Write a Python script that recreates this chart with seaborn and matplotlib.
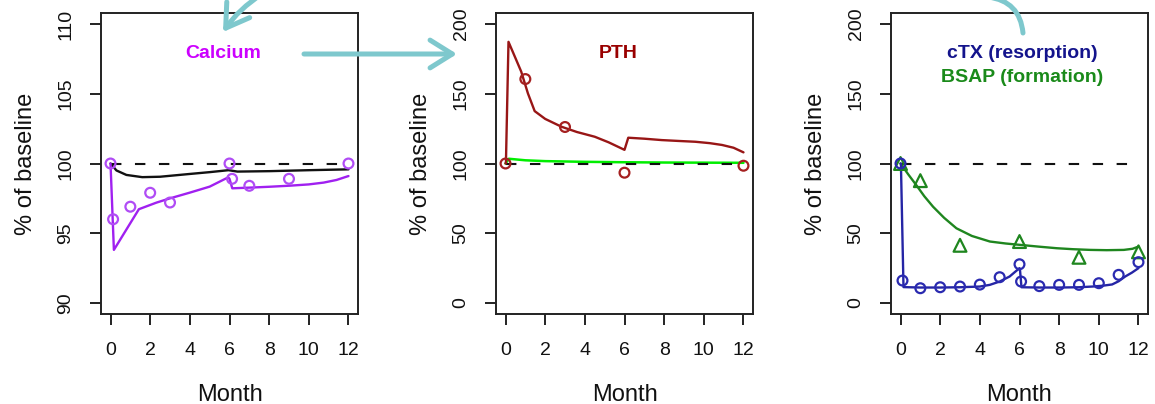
import numpy as np
import pandas as pd
import matplotlib
matplotlib.use("Agg")
import matplotlib.pyplot as plt
from matplotlib.patches import FancyArrowPatch
import seaborn as sns

# ---------------- data ----------------
month_ticks = [0, 2, 4, 6, 8, 10, 12]
ca_yticks = [90, 95, 100, 105, 110]
pct_yticks = [0, 50, 100, 150, 200]

# Calcium: observed (% of baseline)
ca_obs_month = [0, 0.13, 1, 2, 3, 6, 6.13, 7, 9, 12]
ca_obs_value = [100, 96.0, 96.9, 97.9, 97.2, 100, 98.9, 98.4, 98.9, 100]
# Calcium: model prediction
ca_fit_month = [0, 0.17, 1.43, 2.31, 3.0, 4.0, 5.0, 5.94, 6.0, 6.14, 7.04, 8.0, 9.06, 10.0, 10.75, 11.4, 12]
ca_fit_value = [100, 93.8, 96.72, 97.19, 97.5, 97.91, 98.34, 99.01, 98.9, 98.22, 98.27, 98.33, 98.41, 98.5, 98.63, 98.82, 99.1]
# Calcium: reference model (black)
ca_ref_month = [0, 0.3, 0.8, 1.6, 2.5, 4.0, 5.0, 5.95, 6.4, 8.0, 10.0, 12]
ca_ref_value = [100, 99.5, 99.18, 99.02, 99.05, 99.25, 99.38, 99.52, 99.42, 99.45, 99.52, 99.58]

# PTH
pth_obs_month = [0, 1, 3, 6, 12]
pth_obs_value = [100, 160.6, 126.2, 93.4, 98.4]
pth_fit_month = [0, 0.02, 0.15, 0.4, 0.79, 1.13, 1.47, 2.0, 2.82, 3.6, 4.5, 5.2, 5.94, 6.0, 6.19, 7.0, 7.88, 8.7, 9.57, 10.3, 10.92, 11.5, 12]
pth_fit_value = [100, 100, 187.3, 179.0, 166.0, 150.3, 137.6, 132.0, 126.4, 122.6, 119.2, 115.2, 110.2, 109.8, 118.5, 117.8, 116.8, 116.2, 115.6, 114.6, 113.3, 111.3, 108]
pth_ref_month = [0, 0.17, 1, 2, 4, 6, 8, 10, 12]
pth_ref_value = [100, 103.4, 102.3, 101.7, 101.2, 100.9, 100.7, 100.6, 100.5]

# Bone markers
ctx_obs_month = [0, 0.1, 1, 2, 3, 4, 5, 6, 6.08, 7, 8, 9, 10, 11, 12]
ctx_obs_value = [100, 16.0, 10.5, 11.2, 11.7, 13.1, 18.4, 27.7, 15.3, 12.0, 12.9, 12.9, 14.1, 20.1, 29.2]
ctx_fit_month = [0, 0.02, 0.15, 1, 2, 3, 4, 4.5, 5, 5.5, 6.0, 6.02, 6.1, 7, 8, 9, 9.67, 10.2, 10.67, 11.0, 11.33, 11.67, 12]
ctx_fit_value = [100, 100, 11.3, 11.0, 11.0, 11.2, 11.7, 12.9, 15.3, 18.9, 24.9, 24.5, 11.2, 11.0, 11.0, 11.2, 11.7, 12.3, 13.2, 15.5, 18.9, 21.7, 24.9]
bsap_obs_month = [0, 1, 3, 6, 9, 12]
bsap_obs_value = [100, 87.7, 41.3, 44.0, 32.7, 36.6]
bsap_fit_month = [0, 0.4, 0.79, 1.2, 1.64, 2.2, 2.82, 3.6, 4.51, 5.3, 6.03, 7.0, 7.88, 8.7, 9.57, 10.4, 11.26, 11.7, 12]
bsap_fit_value = [100, 92.0, 84.6, 76.5, 69.0, 61.0, 53.5, 48.0, 44.0, 42.6, 41.6, 40.3, 39.2, 38.5, 38.0, 37.8, 38.0, 38.8, 40.4]

# ---------------- style ----------------
sns.set_theme(style="ticks")
plt.rcParams["font.family"] = ["Liberation Sans", "DejaVu Sans"]
plt.rcParams["axes.edgecolor"] = "#222222"
plt.rcParams["axes.linewidth"] = 1.4

FRAME = "#222222"
TEAL = "#7ec8cd"

fig = plt.figure(figsize=(11.55, 4.04), dpi=100)
W, H = 1155, 404
lefts = [101, 496, 891]
axes = [fig.add_axes([l / W, 90 / H, 257 / W, 301 / H]) for l in lefts]


def draw_line(ax, xs, ys, color, lw=1.7, ls="-"):
    df = pd.DataFrame({"Month": xs, "value": ys})
    sns.lineplot(data=df, x="Month", y="value", ax=ax, color=color, lw=lw,
                 linestyle=ls, estimator=None, sort=False)
    ax.lines[-1].set_solid_joinstyle("round")


def draw_points(ax, xs, ys, color, marker="o", s=50):
    df = pd.DataFrame({"Month": xs, "value": ys})
    sns.scatterplot(data=df, x="Month", y="value", ax=ax, color=color,
                    marker=marker, s=s, linewidth=1.6, zorder=4)
    pc = ax.collections[-1]
    pc.set_facecolor("none")
    pc.set_edgecolor(color)


def baseline(ax):
    draw_line(ax, [0, 12], [100, 100], "#111111", lw=1.5, ls=(0, (5, 6.5)))


def style_axes(ax, yticks, ylim):
    ax.set_xlim(-0.48, 12.48)
    ax.set_ylim(*ylim)
    ax.set_xticks(month_ticks)
    ax.set_xticklabels([str(t) for t in month_ticks])
    ax.set_yticks(yticks)
    ax.set_yticklabels([str(t) for t in yticks], rotation=90, va="center")
    ax.tick_params(axis="both", direction="out", length=8, width=1.4,
                   color=FRAME, labelsize=14, labelcolor="#111111")
    ax.tick_params(axis="x", pad=12)
    ax.tick_params(axis="y", pad=11)
    ax.set_xlabel("Month", fontsize=17, labelpad=18, color="#111111")
    ax.set_ylabel("% of baseline", fontsize=17, labelpad=15, color="#111111")
    for sp in ax.spines.values():
        sp.set_visible(True)
        sp.set_color(FRAME)
        sp.set_linewidth(1.4)
    ax.set_facecolor("white")


# Panel 1: calcium
ax = axes[0]
baseline(ax)
draw_line(ax, ca_ref_month, ca_ref_value, "#111111")
draw_line(ax, ca_fit_month, ca_fit_value, "#a020f0")
draw_points(ax, ca_obs_month, ca_obs_value, "#b04cf5")
style_axes(ax, ca_yticks, (89.2, 110.8))
ax.text(0.475, 0.867, "Calcium", transform=ax.transAxes, ha="center", va="center",
        fontsize=14, fontweight="bold", color="#cc00ff")

# Panel 2: PTH
ax = axes[1]
draw_line(ax, pth_ref_month, pth_ref_value, "#00ee00", lw=1.8)
baseline(ax)
draw_line(ax, pth_fit_month, pth_fit_value, "#981616")
draw_points(ax, pth_obs_month, pth_obs_value, "#a52020")
style_axes(ax, pct_yticks, (-8, 208))
ax.text(0.475, 0.867, "PTH", transform=ax.transAxes, ha="center", va="center",
        fontsize=14, fontweight="bold", color="#990000")

# Panel 3: bone turnover markers
ax = axes[2]
baseline(ax)
draw_line(ax, bsap_fit_month, bsap_fit_value, "#1f861f")
draw_line(ax, ctx_fit_month, ctx_fit_value, "#2525a5")
draw_points(ax, bsap_obs_month, bsap_obs_value, "#1f861f", marker="^", s=85)
draw_points(ax, ctx_obs_month, ctx_obs_value, "#2a2ab0")
style_axes(ax, pct_yticks, (-8, 208))
ax.text(0.512, 0.866, "cTX (resorption)", transform=ax.transAxes, ha="center", va="center",
        fontsize=14, fontweight="bold", color="#14148c")
ax.text(0.512, 0.787, "BSAP (formation)", transform=ax.transAxes, ha="center", va="center",
        fontsize=14, fontweight="bold", color="#1a8a1a")


# Teal connector arrows across the panels
def fpt(px, py):
    return (px / W, 1 - py / H)


arrows = [
    FancyArrowPatch(fpt(304, 54), fpt(457, 54), transform=fig.transFigure,
                    arrowstyle="->,head_length=0.8,head_width=0.5", mutation_scale=20,
                    lw=3.6, color=TEAL, shrinkA=0, shrinkB=0, capstyle="round"),
    FancyArrowPatch(fpt(262, -6), fpt(223, 32), transform=fig.transFigure,
                    connectionstyle="arc3,rad=0.1",
                    arrowstyle="->,head_length=0.8,head_width=0.5", mutation_scale=20,
                    lw=3.6, color=TEAL, shrinkA=0, shrinkB=0),
    FancyArrowPatch(fpt(988, -3), fpt(1023, 33), transform=fig.transFigure,
                    connectionstyle="arc3,rad=-0.4", arrowstyle="-",
                    lw=3.6, color=TEAL, shrinkA=0, shrinkB=0, capstyle="round"),
]
for a in arrows:
    a.set_zorder(10)
    fig.add_artist(a)

fig.savefig("out.png", dpi=100, facecolor="white")
